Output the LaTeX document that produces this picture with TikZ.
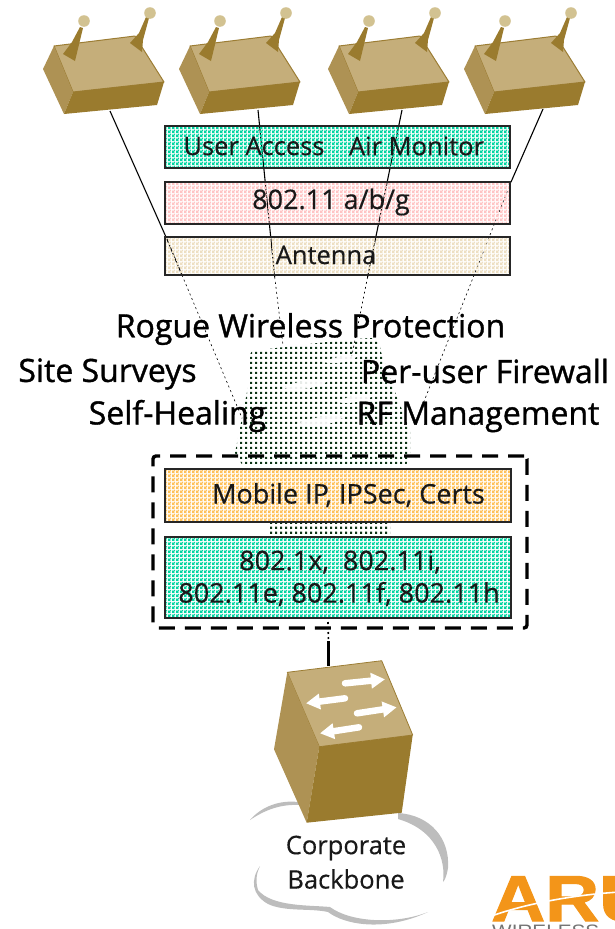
\documentclass[tikz,border=0pt]{standalone}
\usepackage{fontspec}
\setmainfont{Open Sans}
\newfontfamily\heavyfont[FakeBold=1.1]{Open Sans}
\newfontfamily\medfont[FakeBold=0.4]{Open Sans}
\newfontfamily\logofont[FakeBold=1.5]{Liberation Sans}
\newfontfamily\logothin{Liberation Sans}
\usetikzlibrary{patterns,arrows.meta,calc}
\pgfdeclarepatternformonly{ditherchk}{\pgfpointorigin}{\pgfqpoint{4pt}{4pt}}{\pgfqpoint{4pt}{4pt}}{%
  \pgfpathrectangle{\pgfqpoint{0pt}{0pt}}{\pgfqpoint{2pt}{2pt}}%
  \pgfpathrectangle{\pgfqpoint{2pt}{2pt}}{\pgfqpoint{2pt}{2pt}}%
  \pgfpathrectangle{\pgfqpoint{2pt}{0pt}}{\pgfqpoint{2pt}{0.6pt}}%
  \pgfpathrectangle{\pgfqpoint{2pt}{0pt}}{\pgfqpoint{0.6pt}{2pt}}%
  \pgfpathrectangle{\pgfqpoint{0pt}{2pt}}{\pgfqpoint{2pt}{0.6pt}}%
  \pgfpathrectangle{\pgfqpoint{0pt}{2pt}}{\pgfqpoint{0.6pt}{2pt}}%
  \pgfusepath{fill}}
\pgfdeclarepatternformonly{ditherdots}{\pgfpointorigin}{\pgfqpoint{5pt}{5pt}}{\pgfqpoint{5pt}{5pt}}{%
  \pgfpathrectangle{\pgfqpoint{0pt}{0pt}}{\pgfqpoint{2.6pt}{2.6pt}}%
  \pgfusepath{fill}}
\definecolor{tealbox}{HTML}{00D4A0}
\definecolor{pinkbox}{HTML}{FFC4C4}
\definecolor{beigebox}{HTML}{EDDFC2}
\definecolor{orangebox}{HTML}{FFC058}
\definecolor{boxtop}{HTML}{C5AE7A}
\definecolor{boxside}{HTML}{AE9254}
\definecolor{boxfront}{HTML}{9A7B2E}
\definecolor{boxedge}{HTML}{9C7D34}
\definecolor{ballcol}{HTML}{D2C291}
\definecolor{dotgreen}{HTML}{0C3416}
\definecolor{logoor}{HTML}{F39519}
\definecolor{cloudgray}{HTML}{BDBDBD}
\tikzset{
  stackbox/.style={draw=black!85,line width=1.2pt,inner sep=0pt,pattern=ditherchk},
  lab/.style={font=\medfont\fontsize{25.5}{30}\selectfont,inner sep=0pt,text=black!90},
  numlab/.style={font=\medfont\fontsize{27}{32}\selectfont,inner sep=0pt,text=black!90,align=center},
  biglab/.style={font=\heavyfont\fontsize{32}{38}\selectfont,inner sep=0pt,text=black},
  wire/.style={line width=1.1pt,black},
  faint/.style={line width=0.6pt,black,dash pattern=on 2pt off 3pt},
  swoosh/.style={fill=white,draw=none,opacity=.9}
}
\begin{document}
\begin{tikzpicture}[x=1pt,y=-1pt]
\useasboundingbox (0,0) rectangle (615,929);
% routers
\foreach \dx in {0,136,285,421}{
\begin{scope}[xshift=\dx pt]
  \fill[boxtop,draw=boxedge,line width=1pt,line join=round] (54,46)--(135,36)--(164,82)--(73,92)--cycle;
  \fill[boxside] (43,69)--(54,46)--(73,92)--(64,114)--cycle;
  \fill[boxfront] (73,92)--(164,82)--(157,105)--(64,114)--cycle;
  \fill[boxfront] (80,27)--(83,28)--(75,61)--(63,54)--(72,42)--cycle;
  \fill[boxfront] (146,17)--(149,18)--(143,40)--(142,52)--(130,43)--(139,33)--cycle;
  \fill[ballcol] (84,21) circle (5.8);
  \fill[ballcol] (150,13) circle (5.8);
\end{scope}}
% wires
\coordinate (r1b) at (110,111);  \coordinate (r1m) at (166,237); \coordinate (r1e) at (242,418);
\coordinate (r2b) at (258,110);  \coordinate (r2m) at (274.7,277); \coordinate (r2e) at (283,345);
\coordinate (r3b) at (402,110);  \coordinate (r3m) at (367.6,277); \coordinate (r3e) at (351,360);
\coordinate (r4b) at (543,109);  \coordinate (r4m) at (511,182); \coordinate (r4e) at (419,414);
\draw[wire] (r1b)--(r1m);
\draw[wire] (r1m)--($(r1m)!0.21!(r1e)$);
\draw[wire] (r2b)--(r2m);
\draw[wire] (r3b)--(r3m);
\draw[wire] (r4b)--(r4m);
\draw[faint] ($(r1m)!0.21!(r1e)$)--(r1e);
\draw[faint] (r2m)--(r2e);
\draw[faint] (r3m)--(r3e);
\draw[faint] (r4m)--(r4e);
% dotted cloud
\fill[pattern=ditherdots,pattern color=dotgreen] (252,351) .. controls (300,345) and (340,340) .. (370,338)
  .. controls (378,338) and (380,345) .. (381,352) -- (393,387) -- (410,430) -- (410,453) -- (406,466)
  -- (243,466) -- (235,453) -- (250,377) -- (250,358) .. controls (250,354) and (251,352) .. (252,351) -- cycle;
\fill[swoosh] (283,388) .. controls (295,380) and (315,380) .. (328,381) .. controls (318,388) and (295,392) .. (283,388) -- cycle;
\fill[swoosh] (323,362) .. controls (335,356) and (350,355) .. (358,356) .. controls (350,362) and (335,365) .. (323,362) -- cycle;
\fill[swoosh] (337,402) .. controls (350,395) and (365,393) .. (375,395) .. controls (365,401) and (350,405) .. (337,402) -- cycle;
\fill[swoosh] (297,424) .. controls (310,417) and (330,415) .. (344,417) .. controls (332,425) and (310,430) .. (297,424) -- cycle;
\fill[pattern=ditherdots,pattern color=dotgreen] (270,523) rectangle (390,537);
% upper stack
\node[stackbox,pattern color=tealbox,minimum width=345pt,minimum height=42pt] (ua) at (337.5,147) {};
\node[stackbox,pattern color=pinkbox,minimum width=345pt,minimum height=42pt] (rad) at (337.5,203) {};
\node[stackbox,pattern color=beigebox,minimum width=345pt,minimum height=38pt] (ant) at (337.5,256) {};
\node[lab] (t1) at (254,146) {User Access};
\node[lab] (t2) at (416.5,146) {Air Monitor};
\node[numlab] (t3) at (331,202) {802.11 a/b/g};
\node[lab] (t4) at (326,255) {Antenna};
% feature labels
\node[biglab] (f1) at (310.5,329) {Rogue Wireless Protection};
\node[biglab] (f2) at (107.5,374) {Site Surveys};
\node[biglab] (f3) at (485,371) {Per-user Firewall};
\node[biglab] (f4) at (177.5,416) {Self-Healing};
\node[biglab] (f5) at (478,417) {RF Management};
% lower stack
\node[stackbox,pattern color=orangebox,minimum width=346pt,minimum height=53pt] (mip) at (338,495.5) {};
\node[stackbox,pattern color=tealbox,minimum width=346pt,minimum height=81pt] (dot) at (338,577.5) {};
\node[numlab] (t5) at (348.5,495) {Mobile IP, IPSec, Certs};
\node[numlab] (t6a) at (340,562) {802.1x,\ \ 802.11i,};
\node[numlab] (t6b) at (339,594) {802.11e, 802.11f, 802.11h};
\node[draw,line width=3.4pt,dash pattern=on 16pt off 10pt,rounded corners=3pt,minimum width=374pt,minimum height=172pt,inner sep=0pt] (grp) at (340,542) {};
% cloud
\fill[cloudgray] (250,820) .. controls (262,806) and (280,800) .. (298,802) -- (300,805) .. controls (280,804) and (265,810) .. (250,820) -- cycle;
\fill[cloudgray] (398,813) .. controls (430,815) and (450,838) .. (448,868) .. controls (447,875) and (445,880) .. (443,882)
  .. controls (446,860) and (436,830) .. (398,819) -- cycle;
\fill[cloudgray] (260,866) .. controls (250,880) and (252,895) .. (268,904) .. controls (285,912) and (310,908) .. (328,912)
  .. controls (345,925) and (385,932) .. (428,912) .. controls (395,925) and (350,922) .. (330,907)
  .. controls (310,905) and (272,907) .. (258,890) .. controls (255,880) and (257,872) .. (260,866) -- cycle;
% switch
\coordinate (swtop) at (328.5,666);
\coordinate (grpb) at (328.5,641);
\coordinate (grpc) at (328,622);
\draw[line width=3.6pt] (grpb)--(swtop);
\draw[line width=1.6pt,dash pattern=on 2pt off 3pt] (grpc)--(grpb);
\fill[boxtop,draw=boxedge,line width=.8pt,line join=round] (287.3,672.3)--(381.7,660.7)--(412.7,735)--(319.3,746.7)--cycle;
\fill[boxside] (287.3,672.3)--(319.3,746.7)--(306.7,822.7)--(274,749.3)--cycle;
\fill[boxfront] (319.3,746.7)--(412.7,735)--(401.7,812.7)--(306.7,822.7)--cycle;
\foreach \ax/\ay/\bx/\by in {345/683.3/385/679.3, 345/698.3/306/703.3, 357/713.3/396.7/707.3, 359/727.3/320/733.3}{
  \draw[white,line width=6.5pt,line cap=round,-{Triangle[length=14pt,width=15pt]}] (\ax,\ay)--(\bx,\by);
}
\node[lab] (c1) at (346,848) {Corporate};
\node[lab] (c2) at (346,879) {Backbone};
% logo
\begin{scope}
\clip (480,860) rectangle (615,929);
\node[anchor=base west,inner sep=0pt,text=logoor,font=\logofont\bfseries\fontsize{65}{65}\selectfont,xscale=1.15] (logo) at (491,921) {ARU};
\draw[white,line width=1.6pt] (486,918) .. controls (520,905) and (570,895) .. (620,892);
\node[anchor=base west,inner sep=0pt,text=black!55,font=\logothin\fontsize{18}{18}\selectfont,xscale=1.15] (logow) at (492,937) {WIRELESS};
\end{scope}
\end{tikzpicture}
\end{document}
